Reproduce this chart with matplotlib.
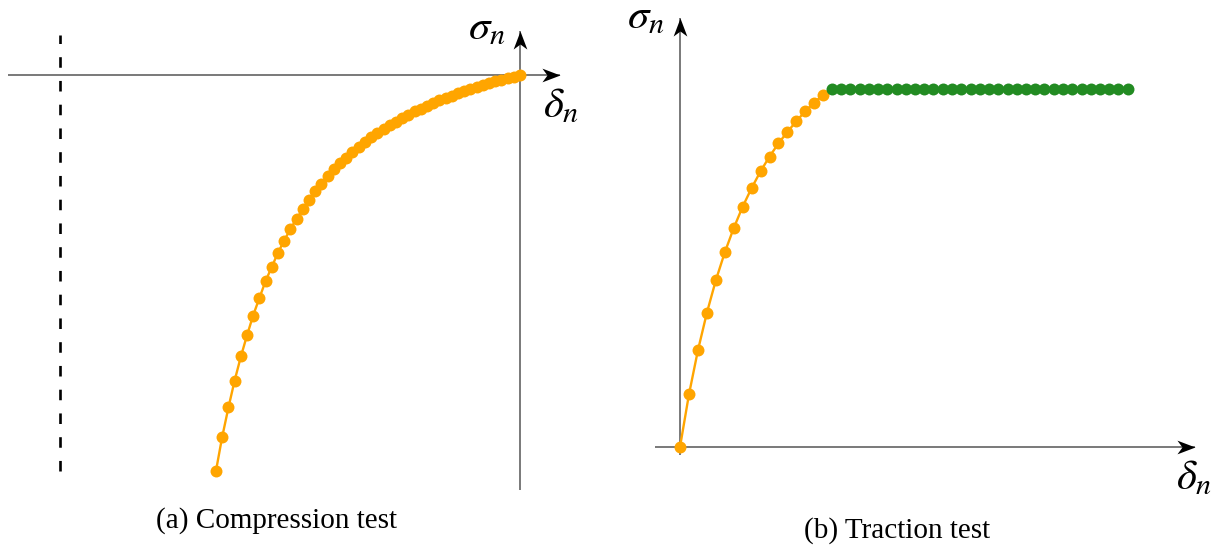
import matplotlib
matplotlib.use("Agg")
import matplotlib.pyplot as plt
from matplotlib.path import Path

plt.rcParams["mathtext.fontset"] = "stix"
plt.rcParams["font.family"] = ["Liberation Serif", "DejaVu Serif"]

# --- (a) essai de compression : delta_n <= 0, sigma_n <= 0 ---
delta_comp = [
    -1.000, -0.980, -0.959, -0.939, -0.918, -0.898, -0.878, -0.857, -0.837, -0.816,
    -0.796, -0.776, -0.755, -0.735, -0.714, -0.694, -0.673, -0.653, -0.633, -0.612,
    -0.592, -0.571, -0.551, -0.531, -0.510, -0.490, -0.469, -0.449, -0.429, -0.408,
    -0.388, -0.367, -0.347, -0.327, -0.306, -0.286, -0.265, -0.245, -0.224, -0.204,
    -0.184, -0.163, -0.143, -0.122, -0.102, -0.082, -0.061, -0.041, -0.020, 0.000,
]
sigma_comp = [
    -1.000, -0.916, -0.840, -0.773, -0.711, -0.658, -0.608, -0.563, -0.521, -0.484,
    -0.449, -0.419, -0.389, -0.363, -0.339, -0.316, -0.294, -0.275, -0.256, -0.238,
    -0.223, -0.209, -0.195, -0.181, -0.169, -0.157, -0.147, -0.136, -0.127, -0.118,
    -0.109, -0.100, -0.092, -0.085, -0.078, -0.071, -0.064, -0.058, -0.052, -0.046,
    -0.041, -0.035, -0.030, -0.026, -0.021, -0.016, -0.012, -0.008, -0.004, 0.000,
]
delta_limit = -1.513  # ligne pointillée (penetration max)

# --- (b) essai de traction ---
delta_trac = [0.00, 0.02, 0.04, 0.06, 0.08, 0.10, 0.12, 0.14, 0.16,
              0.18, 0.20, 0.22, 0.24, 0.26, 0.28, 0.30, 0.32]
sigma_trac = [0.000, 0.147, 0.270, 0.375, 0.466, 0.544, 0.612, 0.672, 0.724,
              0.771, 0.812, 0.849, 0.881, 0.911, 0.939, 0.963, 0.985]
delta_plat = [0.339, 0.360, 0.380, 0.401, 0.422, 0.442, 0.463, 0.484, 0.504, 0.525,
              0.546, 0.566, 0.587, 0.608, 0.628, 0.649, 0.670, 0.690, 0.711, 0.732,
              0.752, 0.773, 0.794, 0.814, 0.835, 0.856, 0.876, 0.897, 0.918, 0.938,
              0.959, 0.979, 1.000]
sigma_plat = [1.0] * len(delta_plat)

ORANGE = "#FFA500"
GREEN = "#228B22"
AXIS_GREY = "#555555"
MS = 8.6

# pointe de fleche type "stealth" (pointe a l'origine)
STEALTH_R = Path([(0, 0), (-1, 0.38), (-0.72, 0), (-1, -0.38), (0, 0)],
                 [Path.MOVETO, Path.LINETO, Path.LINETO, Path.LINETO, Path.CLOSEPOLY])
STEALTH_U = Path([(0, 0), (0.38, -1), (0, -0.72), (-0.38, -1), (0, 0)],
                 [Path.MOVETO, Path.LINETO, Path.LINETO, Path.LINETO, Path.CLOSEPOLY])


def draw_axis(ax, x0, y0, x1, y1, marker):
    ax.plot([x0, x1], [y0, y1], color=AXIS_GREY, lw=1.1, solid_capstyle="butt", zorder=1)
    ax.plot([x1], [y1], marker=marker, ms=26, color="black", mew=0, zorder=2, clip_on=False)


fig = plt.figure(figsize=(12.21, 5.54), dpi=100)

# ---------- panneau (a) ----------
ax1 = fig.add_axes([0, 0, 600 / 1221, 1])
ax1.set_xlim(-520 / 304, 80 / 304)
ax1.set_ylim(-(554 - 75) / 395.7, 75 / 395.7)
ax1.axis("off")
draw_axis(ax1, -1.684, 0, 0.13, 0, STEALTH_R)
draw_axis(ax1, 0, -1.049, 0, 0.112, STEALTH_U)
ax1.plot([delta_limit, delta_limit], [-1.0, 0.101], color="black", lw=1.9,
         dashes=(4, 5), zorder=1)
ax1.plot(delta_comp, sigma_comp, color=ORANGE, lw=1.7, marker="o", ms=MS,
         mew=0, zorder=3, clip_on=False)
ax1.text(-0.109, 0.116, r"$\sigma_n$", fontsize=31, ha="center", va="center")
ax1.text(0.135, -0.081, r"$\delta_n$", fontsize=31, ha="center", va="center")

# ---------- panneau (b) ----------
ax2 = fig.add_axes([600 / 1221, 0, 621 / 1221, 1])
ax2.set_xlim((600 - 680) / 447.7, (1221 - 680) / 447.7)
ax2.set_ylim((447 - 554) / 357.7, 447 / 357.7)
ax2.axis("off")
draw_axis(ax2, -0.056, 0, 1.151, 0, STEALTH_R)
draw_axis(ax2, 0, -0.022, 0, 1.199, STEALTH_U)
ax2.plot(delta_trac, sigma_trac, color=ORANGE, lw=1.7, marker="o", ms=MS,
         mew=0, zorder=3, clip_on=False)
ax2.plot(delta_plat, sigma_plat, color=GREEN, lw=1.7, marker="o", ms=MS,
         mew=0, zorder=3, clip_on=False)
ax2.text(-0.076, 1.199, r"$\sigma_n$", fontsize=31, ha="center", va="center")
ax2.text(1.148, -0.089, r"$\delta_n$", fontsize=31, ha="center", va="center")

# ---------- legendes ----------
fig.text(277 / 1221, 1 - 521 / 554, "(a) Compression test", fontsize=21,
         ha="center", va="center")
fig.text(897 / 1221, 1 - 531 / 554, "(b) Traction test", fontsize=21,
         ha="center", va="center")

fig.savefig("out.png", dpi=100)
